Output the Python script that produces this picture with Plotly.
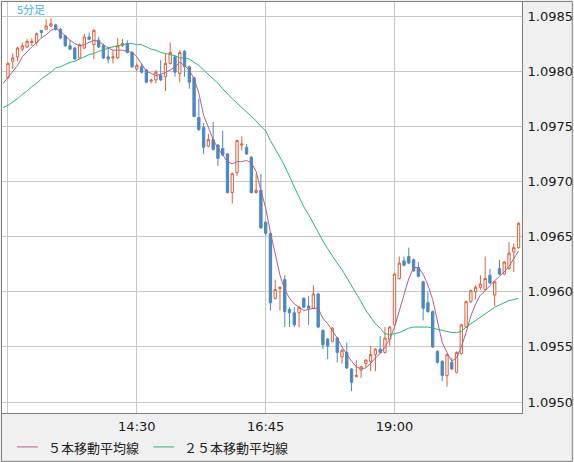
import pandas as pd
import plotly.graph_objects as go

# 5-minute bars, 12:15 .. 21:10; the averages start one bar earlier (at the left edge)
TIMES = pd.date_range("2024-01-15 12:15", periods=108, freq="5min")
MA_TIMES = pd.date_range("2024-01-15 12:10", periods=109, freq="5min")

OPEN = [
    1.09794, 1.09809, 1.09813, 1.09820, 1.09822, 1.09826, 1.09826, 1.09837, 1.09838, 1.09841, 1.09842, 1.09838,
    1.09832, 1.09823, 1.09821, 1.09812, 1.09821, 1.09831, 1.09824, 1.09828, 1.09823, 1.09813, 1.09812, 1.09812,
    1.09823, 1.09825, 1.09817, 1.09802, 1.09804, 1.09801, 1.09791, 1.09792, 1.09796, 1.09795, 1.09807, 1.09813,
    1.09798, 1.09818, 1.09804, 1.09794, 1.09758, 1.09749, 1.09732, 1.09738, 1.09733, 1.09730, 1.09725, 1.09690,
    1.09708, 1.09733, 1.09731, 1.09722, 1.09690, 1.09692, 1.09663, 1.09653, 1.09594, 1.09603, 1.09611, 1.09584,
    1.09581, 1.09581, 1.09594, 1.09587, 1.09585, 1.09598, 1.09565, 1.09557, 1.09555, 1.09558, 1.09541, 1.09545,
    1.09530, 1.09523, 1.09529, 1.09535, 1.09537, 1.09543, 1.09548, 1.09545, 1.09557, 1.09570, 1.09612, 1.09628,
    1.09632, 1.09629, 1.09622, 1.09609, 1.09590, 1.09582, 1.09546, 1.09537, 1.09524, 1.09536, 1.09527, 1.09544,
    1.09568, 1.09591, 1.09600, 1.09604, 1.09602, 1.09615, 1.09597, 1.09621, 1.09616, 1.09621, 1.09636, 1.09640,
]
HIGH = [
    1.09808, 1.09816, 1.09822, 1.09826, 1.09829, 1.09830, 1.09835, 1.09837, 1.09847, 1.09848, 1.09843, 1.09839,
    1.09833, 1.09828, 1.09822, 1.09825, 1.09834, 1.09835, 1.09838, 1.09831, 1.09825, 1.09822, 1.09819, 1.09830,
    1.09829, 1.09828, 1.09818, 1.09807, 1.09807, 1.09802, 1.09793, 1.09801, 1.09810, 1.09816, 1.09826, 1.09814,
    1.09819, 1.09819, 1.09805, 1.09795, 1.09775, 1.09753, 1.09743, 1.09754, 1.09734, 1.09746, 1.09726, 1.09708,
    1.09738, 1.09741, 1.09734, 1.09723, 1.09707, 1.09707, 1.09664, 1.09654, 1.09611, 1.09605, 1.09615, 1.09586,
    1.09586, 1.09587, 1.09595, 1.09596, 1.09606, 1.09599, 1.09566, 1.09558, 1.09568, 1.09559, 1.09548, 1.09554,
    1.09531, 1.09538, 1.09533, 1.09539, 1.09551, 1.09549, 1.09560, 1.09568, 1.09569, 1.09617, 1.09632, 1.09632,
    1.09640, 1.09630, 1.09627, 1.09610, 1.09600, 1.09583, 1.09547, 1.09538, 1.09544, 1.09540, 1.09546, 1.09571,
    1.09592, 1.09602, 1.09606, 1.09615, 1.09632, 1.09621, 1.09610, 1.09629, 1.09628, 1.09645, 1.09644, 1.09663,
]
LOW = [
    1.09793, 1.09802, 1.09809, 1.09818, 1.09821, 1.09823, 1.09823, 1.09830, 1.09838, 1.09840, 1.09837, 1.09829,
    1.09822, 1.09819, 1.09810, 1.09811, 1.09820, 1.09828, 1.09811, 1.09821, 1.09811, 1.09807, 1.09807, 1.09811,
    1.09822, 1.09816, 1.09803, 1.09800, 1.09798, 1.09789, 1.09789, 1.09789, 1.09791, 1.09782, 1.09806, 1.09795,
    1.09790, 1.09795, 1.09784, 1.09758, 1.09746, 1.09725, 1.09731, 1.09728, 1.09714, 1.09723, 1.09689, 1.09680,
    1.09705, 1.09728, 1.09724, 1.09689, 1.09689, 1.09657, 1.09651, 1.09583, 1.09593, 1.09583, 1.09568, 1.09568,
    1.09568, 1.09568, 1.09585, 1.09570, 1.09584, 1.09567, 1.09548, 1.09539, 1.09554, 1.09536, 1.09535, 1.09530,
    1.09510, 1.09523, 1.09522, 1.09531, 1.09528, 1.09528, 1.09544, 1.09544, 1.09551, 1.09569, 1.09611, 1.09623,
    1.09625, 1.09618, 1.09613, 1.09574, 1.09581, 1.09549, 1.09535, 1.09519, 1.09514, 1.09529, 1.09526, 1.09543,
    1.09567, 1.09590, 1.09593, 1.09602, 1.09601, 1.09607, 1.09587, 1.09615, 1.09615, 1.09620, 1.09618, 1.09639,
]
CLOSE = [
    1.09807, 1.09812, 1.09821, 1.09823, 1.09827, 1.09827, 1.09834, 1.09835, 1.09841, 1.09843, 1.09838, 1.09830,
    1.09823, 1.09820, 1.09811, 1.09824, 1.09831, 1.09829, 1.09837, 1.09822, 1.09812, 1.09811, 1.09813, 1.09823,
    1.09825, 1.09817, 1.09804, 1.09805, 1.09799, 1.09790, 1.09792, 1.09799, 1.09792, 1.09807, 1.09817, 1.09799,
    1.09817, 1.09804, 1.09790, 1.09759, 1.09747, 1.09731, 1.09738, 1.09729, 1.09721, 1.09724, 1.09690, 1.09707,
    1.09737, 1.09734, 1.09725, 1.09690, 1.09692, 1.09658, 1.09653, 1.09590, 1.09602, 1.09604, 1.09582, 1.09581,
    1.09570, 1.09586, 1.09586, 1.09585, 1.09598, 1.09568, 1.09552, 1.09551, 1.09567, 1.09545, 1.09547, 1.09531,
    1.09518, 1.09524, 1.09532, 1.09538, 1.09543, 1.09548, 1.09545, 1.09558, 1.09568, 1.09616, 1.09626, 1.09624,
    1.09626, 1.09619, 1.09614, 1.09585, 1.09582, 1.09550, 1.09536, 1.09524, 1.09543, 1.09530, 1.09545, 1.09570,
    1.09591, 1.09601, 1.09604, 1.09607, 1.09612, 1.09608, 1.09609, 1.09616, 1.09627, 1.09635, 1.09640, 1.09662,
]
# moving averages
MA5 = [
    1.09789,
    1.09794, 1.09799, 1.09805, 1.09813, 1.09818, 1.09822, 1.09826, 1.09830, 1.09833, 1.09837, 1.09839, 1.09836,
    1.09832, 1.09828, 1.09825, 1.09823, 1.09824, 1.09826, 1.09828, 1.09827, 1.09824, 1.09821, 1.09819, 1.09819,
    1.09819, 1.09818, 1.09817, 1.09813, 1.09807, 1.09800, 1.09798, 1.09796, 1.09797, 1.09799, 1.09801, 1.09804,
    1.09808, 1.09805, 1.09801, 1.09793, 1.09780, 1.09760, 1.09748, 1.09738, 1.09730, 1.09724, 1.09718, 1.09716,
    1.09718, 1.09718, 1.09719, 1.09717, 1.09709, 1.09692, 1.09676, 1.09654, 1.09635, 1.09615, 1.09602, 1.09594,
    1.09589, 1.09586, 1.09583, 1.09584, 1.09585, 1.09585, 1.09576, 1.09571, 1.09565, 1.09558, 1.09550, 1.09543,
    1.09537, 1.09532, 1.09530, 1.09531, 1.09535, 1.09540, 1.09544, 1.09550, 1.09557, 1.09568, 1.09582, 1.09597,
    1.09612, 1.09622, 1.09622, 1.09616, 1.09606, 1.09593, 1.09573, 1.09554, 1.09545, 1.09537, 1.09540, 1.09550,
    1.09563, 1.09578, 1.09589, 1.09597, 1.09601, 1.09606, 1.09610, 1.09614, 1.09618, 1.09623, 1.09630, 1.09637,
]
MA25 = [
    1.09767,
    1.09769, 1.09772, 1.09775, 1.09779, 1.09782, 1.09786, 1.09789, 1.09793, 1.09796, 1.09799, 1.09803, 1.09804,
    1.09806, 1.09808, 1.09809, 1.09811, 1.09813, 1.09815, 1.09816, 1.09818, 1.09819, 1.09821, 1.09822, 1.09823,
    1.09824, 1.09825, 1.09825, 1.09824, 1.09824, 1.09822, 1.09820, 1.09819, 1.09817, 1.09816, 1.09815, 1.09814,
    1.09812, 1.09812, 1.09811, 1.09808, 1.09805, 1.09801, 1.09797, 1.09793, 1.09789, 1.09784, 1.09779, 1.09775,
    1.09771, 1.09767, 1.09763, 1.09759, 1.09755, 1.09750, 1.09746, 1.09737, 1.09730, 1.09722, 1.09714, 1.09704,
    1.09695, 1.09686, 1.09677, 1.09670, 1.09662, 1.09653, 1.09646, 1.09639, 1.09632, 1.09626, 1.09620, 1.09613,
    1.09606, 1.09598, 1.09591, 1.09583, 1.09577, 1.09571, 1.09567, 1.09562, 1.09561, 1.09562, 1.09563, 1.09565,
    1.09567, 1.09568, 1.09568, 1.09568, 1.09568, 1.09567, 1.09566, 1.09565, 1.09564, 1.09563, 1.09563, 1.09564,
    1.09568, 1.09571, 1.09574, 1.09577, 1.09580, 1.09583, 1.09586, 1.09588, 1.09590, 1.09592, 1.09593, 1.09594,
]

Y_TICKS = [1.0950, 1.0955, 1.0960, 1.0965, 1.0970, 1.0975, 1.0980, 1.0985]
X_TICKS = ["2024-01-15 12:15", "2024-01-15 14:30", "2024-01-15 16:45", "2024-01-15 19:00"]
X_LABELS = ["", "14:30", "16:45", "19:00"]
MA_NAMES = ["５本移動平均線", "２５本移動平均線"]
TITLE = "5分足"

UP = "#d8613c"
DOWN = "#4b88c1"
MA5_COLOR = "#b0608e"
MA25_COLOR = "#2bb673"
BORDER = "#808080"
GRID = "#c8c8c8"

W, H = 574, 462
L, R, T, B = 1, 51, 1, 49
PW, PH = W - L - R, H - T - B


def px(x):
    return (x - L) / PW


def py(y):
    return (H - B - y) / PH


fig = go.Figure()
fig.add_trace(go.Candlestick(
    x=TIMES, open=OPEN, high=HIGH, low=LOW, close=CLOSE,
    increasing=dict(line=dict(color=UP, width=1), fillcolor="white"),
    decreasing=dict(line=dict(color=DOWN, width=1), fillcolor=DOWN),
    showlegend=False,
))
fig.add_trace(go.Scatter(x=MA_TIMES, y=MA5, mode="lines", line=dict(color=MA5_COLOR, width=1),
                         showlegend=False))
fig.add_trace(go.Scatter(x=MA_TIMES, y=MA25, mode="lines", line=dict(color=MA25_COLOR, width=1),
                         showlegend=False))

shapes = [
    # outer frame of the widget
    dict(type="rect", xref="paper", yref="paper", x0=px(0.5), x1=px(W - 0.5), y0=py(H - 0.5), y1=py(0.5),
         line=dict(color=BORDER, width=1), layer="above"),
]
annotations = [
    dict(text=TITLE, xref="paper", yref="paper", x=px(14), y=py(8.5), xanchor="left", yanchor="middle",
         showarrow=False, font=dict(family="Noto Sans CJK JP", size=11, color="#3db1e8")),
]
# hand-drawn legend under the axis
for name, color, x_line, x_text in zip(MA_NAMES, [MA5_COLOR, MA25_COLOR], [16, 153], [45, 182]):
    shapes.append(dict(type="line", xref="paper", yref="paper", x0=px(x_line), x1=px(x_line + 21),
                       y0=py(447), y1=py(447), line=dict(color=color, width=1)))
    annotations.append(dict(text=name, xref="paper", yref="paper", x=px(x_text), y=py(447.5),
                            xanchor="left", yanchor="middle", showarrow=False,
                            font=dict(family="Noto Sans CJK JP", size=13, color="#222222")))

fig.update_layout(
    width=W, height=H,
    margin=dict(l=L, r=R, t=T, b=B, pad=0),
    paper_bgcolor="#f0f0f0",
    plot_bgcolor="white",
    showlegend=False,
    shapes=shapes,
    annotations=annotations,
    font=dict(family="DejaVu Sans", size=13, color="#1a1a1a"),
    xaxis=dict(
        type="date", rangeslider=dict(visible=False),
        range=["2024-01-15 12:08:44", "2024-01-15 21:13:36"],
        tickmode="array", tickvals=X_TICKS, ticktext=X_LABELS,
        showgrid=True, gridcolor=GRID, gridwidth=1,
        showline=True, mirror=True, linecolor=BORDER, linewidth=1,
        ticks="", ticklabelstandoff=1, zeroline=False,
    ),
    yaxis=dict(
        side="right", range=[1.094901, 1.098627],
        tickmode="array", tickvals=Y_TICKS, tickformat=".4f",
        showgrid=True, gridcolor=GRID, gridwidth=1,
        showline=True, mirror=True, linecolor=BORDER, linewidth=1,
        ticks="", ticklabelstandoff=2, zeroline=False,
    ),
)

fig.write_html(
    "out.html",
    config={"displayModeBar": False},
    post_script="document.body.style.margin='0';document.body.style.overflow='hidden';",
)
